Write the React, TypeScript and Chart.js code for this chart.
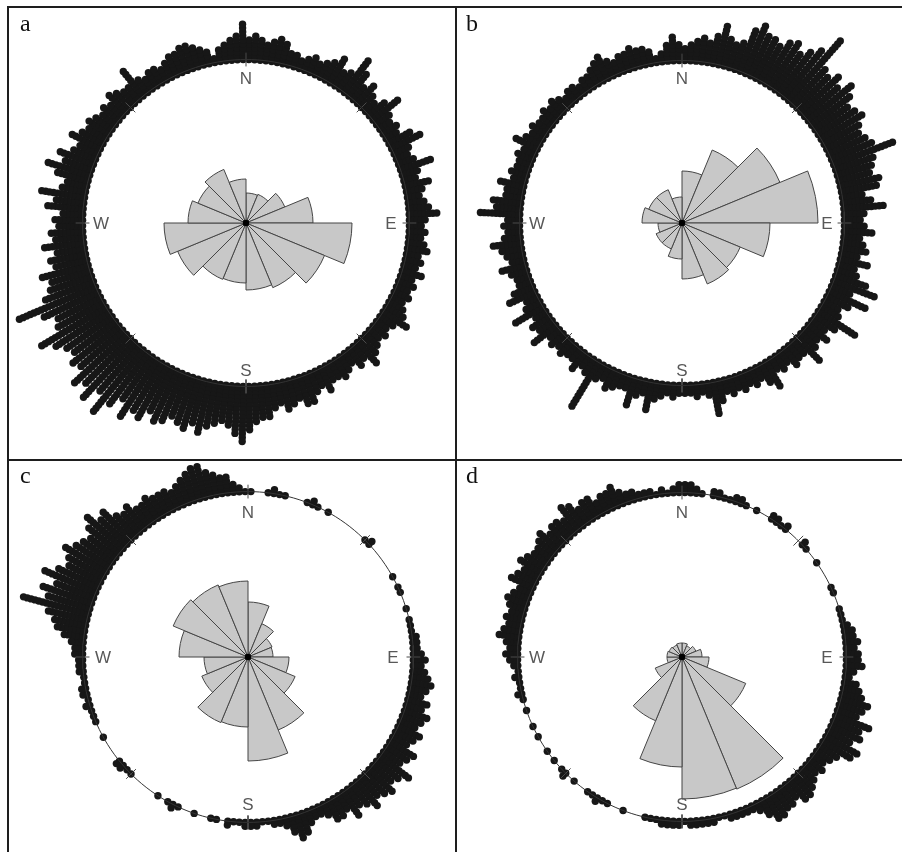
import React, { useEffect, useRef } from 'react';
import { Chart, registerables } from 'chart.js';

Chart.register(...registerables);

// ---------------- data ----------------
// angular bin width (degrees) of the stacked dot plots, compass bearings clockwise from N
const BIN_DEG = 2;
// rose diagram: 16 sectors of 22.5 degrees starting at N
const ROSE_SECTORS = ['N', 'NNE', 'NE', 'ENE', 'E', 'ESE', 'SE', 'SSE', 'S', 'SSW', 'SW', 'WSW', 'W', 'WNW', 'NW', 'NNW'];
const DIRECTIONS = ['N', 'E', 'S', 'W'];
const PANEL_LETTERS = ['a', 'b', 'c', 'd'];

// dots stacked per 2-degree bin (0,2,4,...,358), ten bins per row
const dotsA = [
  6, 7, 6, 5, 6, 7, 6, 4, 4, 3,
  4, 5, 4, 5, 6, 8, 5, 6, 11, 8,
  5, 7, 5, 4, 6, 9, 5, 4, 5, 4,
  7, 9, 5, 4, 5, 9, 5, 4, 7, 5,
  4, 5, 6, 8, 5, 4, 5, 4, 5, 6,
  4, 5, 4, 6, 4, 5, 4, 5, 4, 5,
  6, 8, 5, 4, 5, 4, 5, 6, 8, 5,
  6, 4, 5, 6, 5, 5, 7, 5, 6, 8,
  8, 6, 7, 8, 6, 7, 9, 9, 10, 12,
  15, 13, 11, 10, 11, 12, 14, 12, 14, 13,
  12, 14, 15, 13, 16, 15, 18, 14, 17, 21,
  16, 20, 17, 19, 15, 16, 14, 15, 17, 20,
  14, 13, 16, 22, 14, 12, 11, 13, 9, 10,
  8, 11, 8, 9, 7, 8, 6, 10, 8, 12,
  7, 6, 9, 12, 8, 10, 7, 6, 9, 7,
  6, 7, 6, 5, 6, 5, 7, 6, 5, 5,
  9, 5, 4, 5, 5, 4, 5, 6, 6, 7,
  7, 6, 5, 4, 2, 4, 5, 6, 7, 10,
];
const dotsB = [
  4, 5, 6, 7, 6, 8, 11, 8, 7, 8,
  12, 14, 12, 12, 11, 13, 14, 12, 14, 16,
  21, 13, 12, 14, 12, 15, 13, 11, 12, 13,
  11, 10, 11, 12, 17, 11, 10, 9, 11, 10,
  6, 8, 11, 6, 5, 6, 8, 5, 6, 7,
  5, 8, 5, 6, 9, 12, 6, 11, 7, 5,
  6, 12, 7, 5, 7, 5, 6, 9, 5, 5,
  6, 4, 5, 4, 8, 6, 4, 5, 4, 5,
  4, 5, 4, 6, 9, 4, 3, 4, 3, 3,
  3, 4, 3, 4, 5, 8, 4, 5, 8, 4,
  4, 5, 6, 4, 5, 14, 5, 4, 6, 4,
  4, 5, 4, 5, 4, 8, 5, 6, 4, 9,
  5, 4, 8, 6, 4, 4, 5, 7, 4, 5,
  6, 8, 5, 4, 5, 4, 11, 7, 8, 5,
  5, 7, 4, 5, 4, 4, 5, 4, 7, 5,
  4, 5, 4, 4, 5, 4, 5, 4, 3, 4,
  4, 3, 4, 4, 5, 6, 7, 5, 4, 5,
  5, 6, 5, 5, 4, 2, 3, 5, 7, 5,
];
const dotsC = [
  1, 0, 0, 1, 2, 1, 1, 0, 0, 0,
  1, 2, 1, 0, 1, 0, 0, 0, 0, 0,
  0, 0, 1, 2, 0, 0, 0, 0, 0, 0,
  1, 0, 1, 1, 0, 0, 1, 0, 1, 1,
  1, 2, 2, 2, 3, 4, 3, 4, 5, 6,
  5, 4, 6, 5, 7, 6, 5, 7, 6, 5,
  8, 7, 6, 10, 8, 7, 9, 8, 7, 9,
  7, 6, 8, 5, 6, 6, 4, 3, 3, 4,
  6, 7, 5, 3, 2, 2, 1, 1, 2, 2,
  2, 1, 1, 2, 0, 1, 1, 0, 0, 1,
  0, 0, 1, 2, 1, 0, 1, 0, 0, 0,
  0, 0, 1, 1, 2, 2, 0, 0, 0, 0,
  1, 0, 0, 1, 1, 1, 2, 1, 2, 2,
  1, 1, 2, 2, 2, 3, 3, 4, 6, 8,
  9, 11, 18, 12, 14, 11, 15, 12, 10, 11,
  13, 11, 10, 9, 11, 13, 10, 11, 8, 7,
  8, 6, 6, 7, 6, 6, 6, 5, 6, 7,
  8, 9, 9, 7, 6, 5, 5, 3, 2, 1,
];
const dotsD = [
  3, 3, 2, 1, 0, 2, 2, 1, 1, 2,
  2, 1, 0, 1, 0, 0, 2, 2, 1, 2,
  0, 0, 0, 2, 1, 0, 0, 1, 0, 0,
  0, 0, 1, 1, 0, 0, 1, 1, 1, 2,
  3, 3, 4, 3, 4, 4, 5, 3, 2, 4,
  5, 6, 8, 7, 6, 10, 8, 9, 7, 10,
  9, 6, 5, 4, 5, 4, 5, 6, 7, 7,
  5, 6, 6, 7, 7, 5, 3, 2, 2, 2,
  2, 2, 1, 1, 2, 2, 2, 2, 2, 1,
  2, 2, 2, 2, 1, 1, 1, 0, 0, 0,
  1, 0, 0, 1, 1, 2, 1, 1, 0, 0,
  1, 0, 2, 1, 0, 1, 0, 1, 0, 0,
  1, 0, 1, 0, 0, 1, 0, 1, 2, 1,
  1, 2, 1, 2, 3, 4, 3, 4, 6, 5,
  4, 5, 4, 5, 6, 5, 4, 7, 6, 5,
  7, 6, 5, 5, 6, 7, 5, 6, 6, 5,
  8, 7, 5, 6, 6, 4, 5, 5, 6, 4,
  3, 3, 2, 2, 2, 1, 2, 1, 2, 3,
];

// rose sector lengths (N, NNE, ... NNW)
const roseA = [30, 31, 42, 67, 106, 85, 70, 67, 60, 61, 74, 82, 58, 52, 58, 44];
const roseB = [52, 79, 106, 136, 88, 63, 66, 56, 36, 28, 28, 24, 40, 36, 36, 26];
const roseC = [55, 36, 26, 25, 41, 51, 79, 104, 70, 71, 50, 44, 69, 81, 78, 76];
const roseD = [14, 12, 15, 20, 27, 69, 143, 142, 110, 69, 29, 15, 15, 14, 13, 14];

// ---------------- layout ----------------
const HALF = 260; // half size of each chart canvas (px = data units)
const STEP = 4; // radial spacing of stacked dots
const DOT_R = 3.7;

type PanelSpec = { cx: number; cy: number; R: number; dots: number[]; rose: number[]; letter: string; lx: number; ly: number };

const PANELS: PanelSpec[] = [
  { cx: 246, cy: 223, R: 166, dots: dotsA, rose: roseA, letter: PANEL_LETTERS[0], lx: 20, ly: 11 },
  { cx: 682, cy: 223, R: 165, dots: dotsB, rose: roseB, letter: PANEL_LETTERS[1], lx: 466, ly: 11 },
  { cx: 248, cy: 657, R: 168, dots: dotsC, rose: roseC, letter: PANEL_LETTERS[2], lx: 20, ly: 463 },
  { cx: 682, cy: 657, R: 167, dots: dotsD, rose: roseD, letter: PANEL_LETTERS[3], lx: 466, ly: 463 },
];

const LABEL_DIST: Record<string, number> = { N: 145, E: 145, S: 147, W: 145 };
const LABEL_DEG: Record<string, number> = { N: 0, E: 90, S: 180, W: 270 };

function polar(deg: number, r: number) {
  const t = (deg * Math.PI) / 180;
  return { x: r * Math.sin(t), y: r * Math.cos(t) };
}

function Panel({ spec }: { spec: PanelSpec }) {
  const roseRef = useRef<HTMLCanvasElement>(null);
  const dotRef = useRef<HTMLCanvasElement>(null);

  useEffect(() => {
    const rose = new Chart(roseRef.current as HTMLCanvasElement, {
      type: 'polarArea',
      data: {
        labels: ROSE_SECTORS,
        datasets: [
          {
            data: spec.rose,
            backgroundColor: '#c8c8c8',
            borderColor: '#454545',
            borderWidth: 1,
          },
        ],
      },
      options: {
        animation: false,
        responsive: false,
        events: [],
        layout: { padding: 0 },
        scales: {
          r: {
            display: false,
            min: 0,
            max: HALF,
            startAngle: 0,
          },
        },
        plugins: { legend: { display: false }, tooltip: { enabled: false } },
      },
    } as any);

    const pts: { x: number; y: number }[] = [];
    spec.dots.forEach((c, k) => {
      const deg = k * BIN_DEG + BIN_DEG / 2;
      for (let j = 0; j < c; j++) pts.push(polar(deg, spec.R + j * STEP));
    });
    const circle: { x: number; y: number }[] = [];
    for (let a = 0; a <= 360; a += 2) circle.push(polar(a, spec.R));
    const tickSets: any[] = [];
    for (let a = 0; a < 360; a += 45) {
      tickSets.push({
        type: 'line',
        data: [polar(a, spec.R - 7), polar(a, spec.R + 7)],
        borderColor: '#4a4a4a',
        borderWidth: 1,
        pointRadius: 0,
        fill: false,
      });
    }

    const dots = new Chart(dotRef.current as HTMLCanvasElement, {
      type: 'scatter',
      data: {
        datasets: [
          {
            type: 'line',
            data: circle,
            borderColor: '#333333',
            borderWidth: 1,
            pointRadius: 0,
            fill: false,
            tension: 0,
          },
          ...tickSets,
          {
            data: pts,
            pointRadius: DOT_R,
            pointBackgroundColor: '#171717',
            pointBorderWidth: 0,
            pointBorderColor: '#171717',
            showLine: false,
          },
          {
            data: [{ x: 0, y: 0 }],
            pointRadius: 3.2,
            pointBackgroundColor: '#000000',
            pointBorderWidth: 0,
            showLine: false,
          },
        ],
      },
      options: {
        animation: false,
        responsive: false,
        events: [],
        layout: { padding: 0 },
        scales: {
          x: { type: 'linear', min: -HALF, max: HALF, display: false },
          y: { type: 'linear', min: -HALF, max: HALF, display: false },
        },
        plugins: { legend: { display: false }, tooltip: { enabled: false } },
      },
    } as any);

    return () => {
      rose.destroy();
      dots.destroy();
    };
  }, [spec]);

  const canvasStyle: React.CSSProperties = {
    position: 'absolute',
    left: spec.cx - HALF,
    top: spec.cy - HALF,
    width: HALF * 2,
    height: HALF * 2,
  };

  return (
    <>
      <canvas ref={roseRef} width={HALF * 2} height={HALF * 2} style={canvasStyle} />
      <canvas ref={dotRef} width={HALF * 2} height={HALF * 2} style={canvasStyle} />
      {DIRECTIONS.map((d) => {
        const p = polar(LABEL_DEG[d], LABEL_DIST[d]);
        return (
          <div
            key={d}
            style={{
              position: 'absolute',
              left: spec.cx + p.x,
              top: spec.cy - p.y,
              transform: 'translate(-50%, -50%)',
              fontFamily: '"Liberation Sans", Arial, sans-serif',
              fontSize: 17,
              color: '#585858',
              lineHeight: 1,
            }}
          >
            {d}
          </div>
        );
      })}
      <div
        style={{
          position: 'absolute',
          left: spec.lx,
          top: spec.ly,
          fontFamily: '"Liberation Serif", "Times New Roman", serif',
          fontSize: 24,
          lineHeight: 1,
          color: '#111',
        }}
      >
        {spec.letter}
      </div>
    </>
  );
}

export default function App() {
  const line = '#1e1e1e';
  return (
    <div style={{ position: 'fixed', left: 0, top: 0, width: 902, height: 852, overflow: 'hidden', background: '#fff' }}>
      {PANELS.map((p) => (
        <Panel key={p.letter} spec={p} />
      ))}
      <div style={{ position: 'absolute', left: 7, top: 5.5, width: 895, height: 2, background: line }} />
      <div style={{ position: 'absolute', left: 7, top: 5.5, width: 2, height: 847, background: line }} />
      <div style={{ position: 'absolute', left: 454.5, top: 5.5, width: 2, height: 847, background: line }} />
      <div style={{ position: 'absolute', left: 7, top: 458.5, width: 895, height: 2, background: line }} />
    </div>
  );
}
